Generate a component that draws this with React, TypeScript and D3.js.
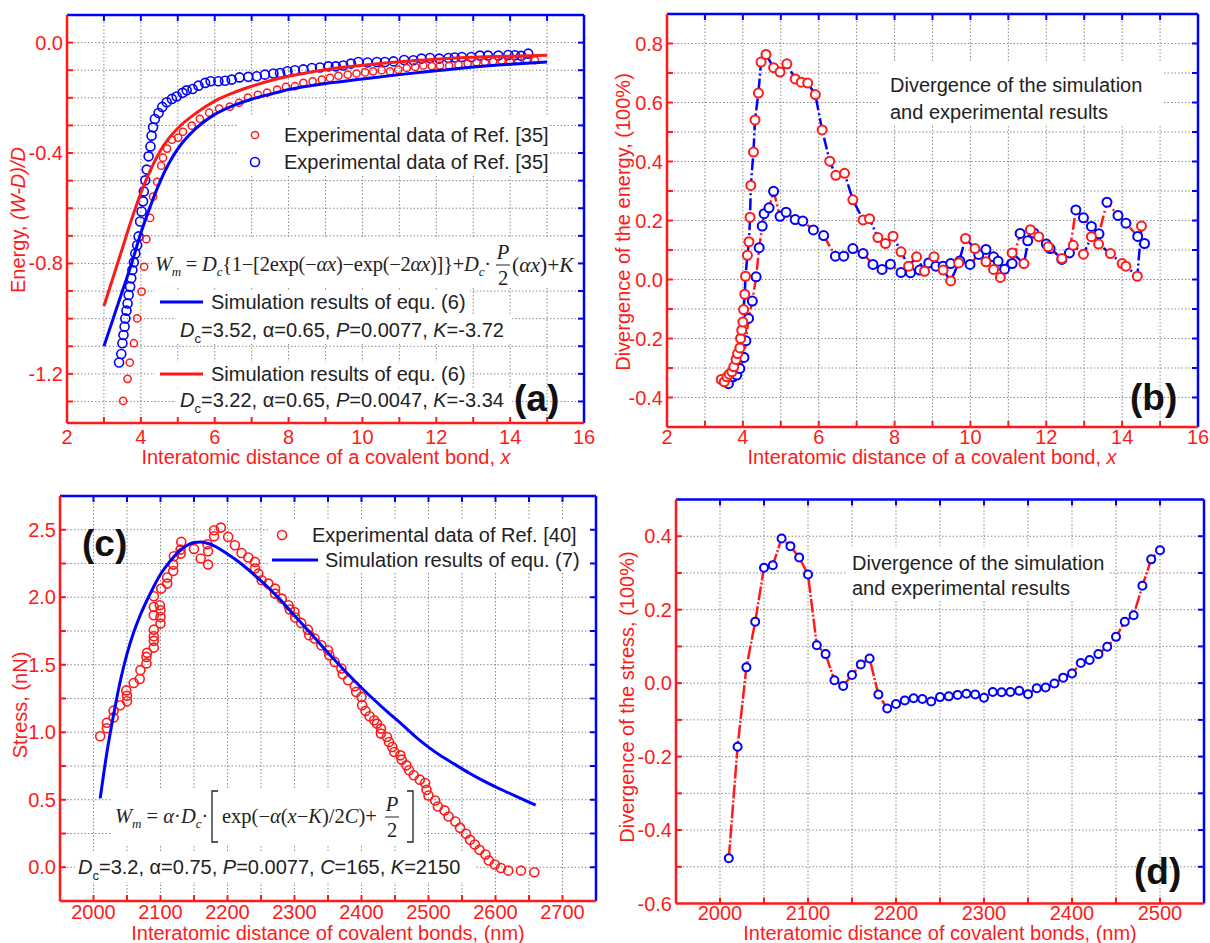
import React from 'react';
import * as d3 from 'd3';

type Pt = [number, number];

const RED = '#ff1a1a';
const BLUE = '#0000ff';
const GRID = '#8a8a8a';
const INK = '#222222';
const SANS = '"Liberation Sans", Arial, sans-serif';
const SERIF = '"Liberation Serif", "Times New Roman", serif';

// ---------------- Panel (a) data ----------------
const aRedExp: Pt[] = [
  [3.52,-1.298],[3.64,-1.218],[3.70,-1.159],[3.81,-1.089],[3.90,-0.999],[4.02,-0.902],[4.09,-0.812],[4.15,-0.712],
  [4.25,-0.635],[4.33,-0.558],[4.44,-0.504],[4.55,-0.446],[4.60,-0.417],[4.71,-0.384],[4.84,-0.352],[5.01,-0.344],
  [5.14,-0.323],[5.38,-0.301],[5.60,-0.276],[5.85,-0.254],[6.12,-0.239],[6.41,-0.232],[6.66,-0.218],[6.90,-0.199],
  [7.17,-0.189],[7.42,-0.181],[7.69,-0.170],[7.93,-0.160],[8.17,-0.158],[8.40,-0.146],[8.65,-0.140],[8.90,-0.134],
  [9.12,-0.128],[9.35,-0.120],[9.60,-0.116],[9.84,-0.112],[10.07,-0.108],[10.29,-0.104],[10.52,-0.100],[10.75,-0.104],
  [10.97,-0.098],[11.20,-0.092],[11.43,-0.088],[11.65,-0.083],[11.88,-0.085],[12.10,-0.083],[12.35,-0.084],[12.60,-0.080],
  [12.85,-0.076],[13.09,-0.071],[13.32,-0.070],[13.54,-0.068],[13.77,-0.066],[14.00,-0.068],[14.22,-0.064],[14.45,-0.062],[14.67,-0.064]
];
const aBlueExp: Pt[] = [
  [3.41,-1.159],[3.47,-1.128],[3.50,-1.089],[3.53,-1.059],[3.56,-1.029],[3.58,-0.999],[3.61,-0.971],[3.64,-0.945],
  [3.67,-0.914],[3.71,-0.884],[3.74,-0.854],[3.77,-0.824],[3.81,-0.796],[3.85,-0.764],[3.90,-0.734],[3.94,-0.702],
  [3.98,-0.648],[4.02,-0.612],[4.06,-0.575],[4.08,-0.539],[4.12,-0.499],[4.16,-0.460],[4.21,-0.412],[4.26,-0.376],
  [4.29,-0.337],[4.33,-0.307],[4.38,-0.277],[4.48,-0.255],[4.58,-0.233],[4.70,-0.216],[4.84,-0.204],[4.97,-0.195],
  [5.13,-0.182],[5.24,-0.173],[5.40,-0.168],[5.56,-0.156],[5.74,-0.146],[5.89,-0.140],[6.10,-0.140],[6.28,-0.138],
  [6.46,-0.134],[6.67,-0.126],[6.91,-0.124],[7.14,-0.122],[7.36,-0.116],[7.59,-0.112],[7.77,-0.110],[7.97,-0.104],
  [8.17,-0.100],[8.40,-0.097],[8.63,-0.092],[8.85,-0.090],[9.08,-0.086],[9.28,-0.086],[9.48,-0.083],[9.69,-0.076],
  [9.89,-0.070],[10.14,-0.072],[10.39,-0.070],[10.61,-0.070],[10.84,-0.068],[11.13,-0.063],[11.38,-0.064],[11.60,-0.058],
  [11.83,-0.056],[12.08,-0.058],[12.33,-0.056],[12.50,-0.054],[12.69,-0.052],[12.95,-0.052],[13.18,-0.047],[13.40,-0.047],
  [13.68,-0.047],[13.95,-0.045],[14.13,-0.046],[14.30,-0.048],[14.49,-0.040]
];
const aBlueSim: Pt[] = [
  [3.0,-1.10],[3.25,-1.0],[3.5,-0.90],[3.75,-0.80],[4.0,-0.69],[4.25,-0.595],[4.5,-0.51],[4.75,-0.44],[5.0,-0.385],
  [5.5,-0.31],[6.0,-0.26],[6.5,-0.228],[7.0,-0.205],[7.5,-0.187],[8.0,-0.170],[9.0,-0.148],[10,-0.132],[11,-0.116],
  [12,-0.102],[13,-0.088],[14,-0.078],[15,-0.070]
];
const aRedSim: Pt[] = [
  [3.0,-0.954],[3.25,-0.85],[3.5,-0.745],[3.75,-0.64],[4.0,-0.545],[4.25,-0.465],[4.5,-0.398],[4.75,-0.348],[5.0,-0.31],
  [5.5,-0.255],[6.0,-0.212],[6.5,-0.182],[7.0,-0.158],[7.5,-0.138],[8.0,-0.122],[9.0,-0.098],[10,-0.082],[11,-0.069],
  [12,-0.060],[13,-0.053],[14,-0.049],[15,-0.046]
];
const aXLabels = [2, 4, 6, 8, 10, 12, 14, 16];
const aYLabels = [0.0, -0.4, -0.8, -1.2];

// ---------------- Panel (b) data ----------------
const bRedDiv: Pt[] = [
  [3.43,-0.339],[3.51,-0.347],[3.58,-0.330],[3.64,-0.321],[3.71,-0.313],[3.76,-0.296],[3.82,-0.271],[3.86,-0.251],
  [3.92,-0.232],[3.94,-0.200],[3.97,-0.172],[4.00,-0.144],[4.02,-0.102],[4.05,-0.050],[4.07,0.011],[4.12,0.082],
  [4.16,0.128],[4.19,0.211],[4.21,0.319],[4.28,0.432],[4.32,0.541],[4.41,0.632],[4.48,0.737],[4.61,0.763],
  [4.81,0.718],[4.98,0.703],[5.16,0.731],[5.38,0.680],[5.54,0.669],[5.71,0.666],[5.91,0.627],[6.09,0.507],
  [6.29,0.401],[6.45,0.353],[6.68,0.360],[6.90,0.270],[7.17,0.202],[7.34,0.206],[7.56,0.142],[7.76,0.122],
  [7.96,0.147],[8.17,0.094],[8.37,0.045],[8.58,0.077],[8.79,0.028],[9.04,0.077],[9.28,0.032],[9.48,-0.005],
  [9.69,0.056],[9.87,0.139],[10.12,0.105],[10.41,0.060],[10.61,0.034],[10.79,0.007],[11.10,0.090],[11.41,0.054],
  [11.58,0.169],[11.80,0.145],[12.05,0.111],[12.41,0.071],[12.71,0.116],[12.98,0.086],[13.19,0.145],[13.38,0.120],
  [13.69,0.088],[14.00,0.054],[14.10,0.045],[14.40,0.011],[14.51,0.181]
];
const bBlueDiv: Pt[] = [
  [3.62,-0.353],[3.74,-0.330],[3.84,-0.324],[3.92,-0.302],[4.03,-0.264],[4.08,-0.208],[4.15,-0.132],[4.25,-0.073],
  [4.35,0.009],[4.43,0.108],[4.51,0.181],[4.56,0.223],[4.69,0.243],[4.81,0.299],[4.98,0.214],[5.14,0.228],
  [5.38,0.203],[5.58,0.198],[5.86,0.168],[6.13,0.149],[6.44,0.079],[6.66,0.079],[6.90,0.105],[7.17,0.088],
  [7.43,0.051],[7.67,0.034],[7.89,0.052],[8.17,0.024],[8.42,0.023],[8.66,0.032],[8.90,0.056],[9.09,0.045],
  [9.28,0.045],[9.48,0.054],[9.72,0.063],[9.99,0.051],[10.22,0.085],[10.41,0.102],[10.61,0.077],[10.73,0.062],
  [10.90,0.035],[11.10,0.054],[11.31,0.156],[11.51,0.131],[11.67,0.158],[12.00,0.120],[12.10,0.105],[12.41,0.068],
  [12.61,0.090],[12.78,0.236],[12.98,0.209],[13.19,0.180],[13.39,0.155],[13.60,0.262],[13.89,0.217],[14.10,0.191],
  [14.41,0.146],[14.59,0.122]
];
const bXLabels = [2, 4, 6, 8, 10, 12, 14, 16];
const bYLabels = [0.8, 0.6, 0.4, 0.2, 0.0, -0.2, -0.4];

// ---------------- Panel (c) data ----------------
const cExp: Pt[] = [
  [2010,0.97],[2020,1.03],[2020,1.07],[2030,1.11],[2030,1.16],[2040,1.20],[2050,1.23],[2050,1.27],[2049,1.31],
  [2060,1.365],[2069,1.395],[2070,1.46],[2079,1.51],[2079,1.558],[2080,1.588],
  [2090,1.627],[2090,1.677],[2090,1.711],[2090,1.76],[2090,1.867],[2090,1.928],[2090,2.007],
  [2100,1.805],[2100,1.854],[2100,1.904],[2099,1.941],[2101,2.064],
  [2110,2.101],[2110,2.146],[2119,2.195],[2119,2.242],[2120,2.304],[2130,2.323],[2130,2.353],[2131,2.41],
  [2150,2.358],[2160,2.287],[2171,2.242],[2171,2.341],[2170,2.393],[2180,2.452],[2180,2.496],[2190,2.516],
  [2201,2.447],[2211,2.385],[2221,2.328],[2231,2.294],[2241,2.262],[2241,2.213],[2246,2.175],[2251,2.126],
  [2261,2.101],[2271,2.064],[2271,2.027],[2281,1.99],[2291,1.941],[2293,1.909],[2300,1.891],[2301,1.85],
  [2310,1.81],[2320,1.76],[2322,1.719],[2330,1.694],[2340,1.644],[2350,1.607],[2352,1.57],[2360,1.521],
  [2370,1.472],[2372,1.43],[2380,1.385],[2390,1.341],[2392,1.299],[2400,1.262],[2401,1.20],[2406,1.158],
  [2412,1.119],[2419,1.089],[2423,1.064],[2429,1.027],[2429,0.99],[2438,0.965],[2441,0.928],[2446,0.891],
  [2449,0.854],[2458,0.829],[2460,0.797],[2467,0.755],[2471,0.718],[2478,0.681],[2487,0.649],[2495,0.624],
  [2497,0.574],[2500,0.532],[2510,0.495],[2514,0.45],[2524,0.421],[2530,0.376],[2540,0.339],[2547,0.292],
  [2556,0.248],[2562,0.203],[2569,0.168],[2576,0.129],[2585,0.094],[2590,0.05],[2599,0.02],[2608,-0.005],
  [2619,-0.025],[2638,-0.025],[2658,-0.037]
];
const cSim: Pt[] = [
  [2010,0.51],[2020,0.85],[2030,1.13],[2040,1.38],[2050,1.58],[2060,1.74],[2070,1.87],[2080,1.98],[2090,2.08],
  [2100,2.17],[2110,2.24],[2120,2.30],[2130,2.35],[2140,2.385],[2150,2.405],[2160,2.41],[2170,2.40],[2180,2.38],
  [2200,2.32],[2220,2.25],[2240,2.165],[2260,2.075],[2280,1.975],[2300,1.865],[2320,1.755],[2340,1.645],
  [2360,1.535],[2380,1.43],[2400,1.33],[2420,1.235],[2440,1.145],[2460,1.06],[2480,0.97],[2500,0.89],
  [2520,0.82],[2540,0.76],[2560,0.70],[2580,0.645],[2600,0.595],[2620,0.55],[2640,0.505],[2660,0.46]
];
const cXLabels = [2000, 2100, 2200, 2300, 2400, 2500, 2600, 2700];
const cYLabels = [0.0, 0.5, 1.0, 1.5, 2.0, 2.5];

// ---------------- Panel (d) data ----------------
const dDiv: Pt[] = [
  [2010,-0.477],[2020,-0.173],[2030,0.043],[2040,0.167],[2050,0.314],[2060,0.321],[2070,0.394],[2080,0.373],
  [2090,0.342],[2100,0.296],[2110,0.103],[2120,0.079],[2130,0.008],[2140,-0.008],[2150,0.022],[2160,0.051],
  [2170,0.067],[2180,-0.031],[2190,-0.069],[2200,-0.057],[2210,-0.047],[2220,-0.041],[2230,-0.043],[2240,-0.050],
  [2250,-0.038],[2260,-0.036],[2270,-0.032],[2280,-0.029],[2290,-0.031],[2300,-0.040],[2310,-0.024],[2320,-0.025],
  [2330,-0.024],[2340,-0.021],[2350,-0.030],[2360,-0.014],[2370,-0.012],[2380,-0.001],[2390,0.015],[2400,0.026],
  [2410,0.055],[2420,0.063],[2430,0.079],[2440,0.099],[2450,0.126],[2460,0.167],[2470,0.185],[2480,0.265],
  [2490,0.337],[2500,0.362]
];
const dXLabels = [2000, 2100, 2200, 2300, 2400, 2500];
const dYLabels = [0.4, 0.2, 0.0, -0.2, -0.4, -0.6];

// ---------------- scales ----------------
const ax = d3.scaleLinear().domain([2, 16]).range([67, 584]);
const ay = d3.scaleLinear().domain([-1.378, 0.1]).range([423, 15]);
const bx = d3.scaleLinear().domain([2, 16]).range([667, 1198]);
const by = d3.scaleLinear().domain([-0.5, 0.9]).range([427, 14]);
const cx = d3.scaleLinear().domain([1950, 2750]).range([60, 596]);
const cy = d3.scaleLinear().domain([-0.25, 2.75]).range([901, 496]);
const dx = d3.scaleLinear().domain([1950, 2550]).range([676, 1204]);
const dy = d3.scaleLinear().domain([-0.6, 0.5]).range([903.5, 499.5]);

const rng = (a: number, b: number, s: number) => {
  const out: number[] = [];
  const n = Math.round((b - a) / s);
  for (let i = 0; i <= n; i++) out.push(+(a + i * s).toFixed(6));
  return out;
};

type Sc = d3.ScaleLinear<number, number>;

function Grid({ x, y, xs, ys }: { x: Sc; y: Sc; xs: number[]; ys: number[] }) {
  const [x0, x1] = x.range();
  const [yb, yt] = y.range();
  return (
    <g stroke={GRID} strokeWidth={1} strokeDasharray="1.5,2">
      {xs.map((v, i) => <line key={'gx' + i} x1={x(v)} x2={x(v)} y1={yt} y2={yb} />)}
      {ys.map((v, i) => <line key={'gy' + i} x1={x0} x2={x1} y1={y(v)} y2={y(v)} />)}
    </g>
  );
}

function Axes({ x, y, xs, ys, xLabels, yLabels, xFmt, yFmt, xBase }:
  { x: Sc; y: Sc; xs: number[]; ys: number[]; xLabels: number[]; yLabels: number[];
    xFmt: (v: number) => string; yFmt: (v: number) => string; xBase: number }) {
  const [x0, x1] = x.range();
  const [yb, yt] = y.range();
  const T = 6;
  return (
    <g>
      <g stroke={RED} strokeWidth={2}>
        {xs.map((v, i) => <line key={'tb' + i} x1={x(v)} x2={x(v)} y1={yb} y2={yb - T} />)}
        {ys.map((v, i) => <line key={'tl' + i} x1={x0} x2={x0 + T} y1={y(v)} y2={y(v)} />)}
      </g>
      <g stroke={BLUE} strokeWidth={2}>
        {xs.map((v, i) => <line key={'tt' + i} x1={x(v)} x2={x(v)} y1={yt} y2={yt + T} />)}
        {ys.map((v, i) => <line key={'tr' + i} x1={x1} x2={x1 - T} y1={y(v)} y2={y(v)} />)}
      </g>
      <line x1={x0} x2={x1} y1={yt} y2={yt} stroke={BLUE} strokeWidth={2.5} />
      <line x1={x1} x2={x1} y1={yt} y2={yb} stroke={BLUE} strokeWidth={2.5} />
      <line x1={x0} x2={x0} y1={yt} y2={yb} stroke={RED} strokeWidth={2.5} />
      <line x1={x0} x2={x1} y1={yb} y2={yb} stroke={RED} strokeWidth={2.5} />
      <g fill={RED} fontFamily={SANS} fontSize={20}>
        {xLabels.map((v, i) => <text key={'lx' + i} x={x(v)} y={xBase} textAnchor="middle">{xFmt(v)}</text>)}
        {yLabels.map((v, i) => <text key={'ly' + i} x={x0 - 4} y={y(v) + 7} textAnchor="end">{yFmt(v)}</text>)}
      </g>
    </g>
  );
}

const f1 = (v: number) => v.toFixed(1);
const f0 = (v: number) => String(v);

function Boxes({ rects }: { rects: number[][] }) {
  return <g fill="#fff">{rects.map((r, i) => <rect key={i} x={r[0]} y={r[1]} width={r[2]} height={r[3]} />)}</g>;
}

function Circles({ data, x, y, r, color, fill, sw }:
  { data: Pt[]; x: Sc; y: Sc; r: number; color: string; fill: string; sw: number }) {
  return (
    <g stroke={color} fill={fill} strokeWidth={sw}>
      {data.map((d, i) => <circle key={i} cx={x(d[0])} cy={y(d[1])} r={r} />)}
    </g>
  );
}

function Path({ data, x, y, color, w, dash }:
  { data: Pt[]; x: Sc; y: Sc; color: string; w: number; dash?: string }) {
  const line = d3.line<Pt>().x(d => x(d[0])).y(d => y(d[1]));
  return <path d={line(data) || ''} fill="none" stroke={color} strokeWidth={w} strokeDasharray={dash} strokeLinejoin="round" />;
}

export default function App() {
  const lineA = d3.line<Pt>().curve(d3.curveMonotoneX);
  const smooth = (data: Pt[], x: Sc, y: Sc) => lineA.x(d => x(d[0])).y(d => y(d[1]))(data) || '';

  return (
    <svg width={1210} height={943} style={{ position: 'absolute', left: 0, top: 0, background: '#fff' }}>
      <rect x={0} y={0} width={1210} height={943} fill="#fff" />

      {/* ================= Panel (a) ================= */}
      <Grid x={ax} y={ay} xs={rng(3, 15, 1)} ys={rng(-1.3, 0, 0.1)} />
      <Boxes rects={[[237, 115, 312, 60], [152, 238, 430, 50], [155, 290, 315, 25], [176, 316, 336, 28], [155, 362, 315, 25], [176, 388, 336, 28]]} />
      <Circles data={aBlueExp} x={ax} y={ay} r={4.5} color={BLUE} fill="none" sw={1.6} />
      <Circles data={aRedExp} x={ax} y={ay} r={3.6} color={RED} fill="none" sw={1.5} />
      <path d={smooth(aBlueSim, ax, ay)} fill="none" stroke={BLUE} strokeWidth={3} />
      <path d={smooth(aRedSim, ax, ay)} fill="none" stroke={RED} strokeWidth={3} />
      <Axes x={ax} y={ay} xs={rng(3, 15, 1)} ys={rng(-1.3, 0, 0.1)} xLabels={aXLabels} yLabels={aYLabels} xFmt={f0} yFmt={f1} xBase={444} />
      <g fontFamily={SANS} fontSize={20} fill={INK}>
        <circle cx={255} cy={135} r={3.6} stroke={RED} fill="none" strokeWidth={1.5} />
        <text x={284} y={142}>Experimental data of Ref. [35]</text>
        <circle cx={255} cy={162} r={4.5} stroke={BLUE} fill="none" strokeWidth={1.6} />
        <text x={284} y={169}>Experimental data of Ref. [35]</text>
        <line x1={160} x2={203} y1={302} y2={302} stroke={BLUE} strokeWidth={3} />
        <text x={211} y={309}>Simulation results of equ. (6)</text>
        <text x={180} y={337}><tspan fontStyle="italic">D</tspan><tspan dy={6} fontSize={13}>c</tspan><tspan dy={-6}>=3.52, α=0.65, </tspan><tspan fontStyle="italic">P</tspan>=0.0077, <tspan fontStyle="italic">K</tspan>=-3.72</text>
        <line x1={160} x2={203} y1={374} y2={374} stroke={RED} strokeWidth={3} />
        <text x={211} y={381}>Simulation results of equ. (6)</text>
        <text x={180} y={407}><tspan fontStyle="italic">D</tspan><tspan dy={6} fontSize={13}>c</tspan><tspan dy={-6}>=3.22, α=0.65, </tspan><tspan fontStyle="italic">P</tspan>=0.0047, <tspan fontStyle="italic">K</tspan>=-3.34</text>
        <text x={514} y={411} fontSize={37} fontWeight="bold" fill="#111">(a)</text>
      </g>
      <g fontFamily={SERIF} fontSize={20.5} fill={INK}>
        <text x={155} y={271} textLength={336} lengthAdjust="spacing">
          <tspan fontStyle="italic">W</tspan><tspan dy={5} fontSize={13} fontStyle="italic">m</tspan><tspan dy={-5}> = </tspan>
          <tspan fontStyle="italic">D</tspan><tspan dy={5} fontSize={13} fontStyle="italic">c</tspan><tspan dy={-5}>{'{1−[2exp(−'}</tspan>
          <tspan fontStyle="italic">αx</tspan><tspan>)−exp(−2</tspan><tspan fontStyle="italic">αx</tspan><tspan>{')]}+'}</tspan>
          <tspan fontStyle="italic">D</tspan><tspan dy={5} fontSize={13} fontStyle="italic">c</tspan><tspan dy={-5}>·</tspan>
        </text>
        <text x={503} y={259} textAnchor="middle" fontStyle="italic">P</text>
        <line x1={496} x2={510} y1={265} y2={265} stroke={INK} strokeWidth={1} />
        <text x={503} y={285} textAnchor="middle">2</text>
        <text x={512} y={272} fontSize={21.5}>(<tspan fontStyle="italic">αx</tspan>)+<tspan fontStyle="italic">K</tspan></text>
      </g>
      <g fontFamily={SANS} fontSize={20} fill={RED}>
        <text x={326} y={464} textAnchor="middle">Interatomic distance of a covalent bond, <tspan fontStyle="italic">x</tspan></text>
        <text transform="translate(25,220) rotate(-90)" textAnchor="middle">Energy, <tspan fontStyle="italic">(W-D)/D</tspan></text>
      </g>

      {/* ================= Panel (b) ================= */}
      <Grid x={bx} y={by} xs={rng(3, 15, 1)} ys={rng(-0.4, 0.8, 0.1)} />
      <Boxes rects={[[880, 62, 284, 64]]} />
      <Path data={bRedDiv} x={bx} y={by} color={BLUE} w={2.5} dash="12,3,2,3" />
      <Path data={bBlueDiv} x={bx} y={by} color={RED} w={2.5} dash="12,3,2,3" />
      <Circles data={bBlueDiv} x={bx} y={by} r={4.5} color={BLUE} fill="#fff" sw={2} />
      <Circles data={bRedDiv} x={bx} y={by} r={4.5} color={RED} fill="#fff" sw={2} />
      <Axes x={bx} y={by} xs={rng(3, 15, 1)} ys={rng(-0.4, 0.8, 0.1)} xLabels={bXLabels} yLabels={bYLabels} xFmt={f0} yFmt={f1} xBase={444} />
      <g fontFamily={SANS} fontSize={20} fill={INK}>
        <text x={890} y={92}>Divergence of the simulation</text>
        <text x={890} y={119}>and experimental results</text>
        <text x={1130} y={410} fontSize={37} fontWeight="bold" fill="#111">(b)</text>
      </g>
      <g fontFamily={SANS} fontSize={20} fill={RED}>
        <text x={932} y={464} textAnchor="middle">Interatomic distance of a covalent bond, <tspan fontStyle="italic">x</tspan></text>
        <text transform="translate(630,222) rotate(-90)" textAnchor="middle">Divergence of the energy, (100%)</text>
      </g>

      {/* ================= Panel (c) ================= */}
      <Grid x={cx} y={cy} xs={rng(2000, 2700, 50)} ys={rng(0, 2.5, 0.25)} />
      <Boxes rects={[[268, 520, 322, 52], [112, 788, 310, 58], [75, 852, 400, 30]]} />
      <Circles data={cExp} x={cx} y={cy} r={4.5} color={RED} fill="none" sw={1.6} />
      <path d={smooth(cSim, cx, cy)} fill="none" stroke={BLUE} strokeWidth={3} />
      <Axes x={cx} y={cy} xs={rng(2000, 2700, 50)} ys={rng(0, 2.5, 0.25)} xLabels={cXLabels} yLabels={cYLabels} xFmt={f0} yFmt={f1} xBase={919} />
      <g fontFamily={SANS} fontSize={20} fill={INK}>
        <text x={82} y={556} fontSize={37} fontWeight="bold" fill="#111">(c)</text>
        <circle cx={282} cy={535} r={4.5} stroke={RED} fill="none" strokeWidth={1.6} />
        <text x={312} y={542}>Experimental data of Ref. [40]</text>
        <line x1={272} x2={318} y1={560} y2={560} stroke={BLUE} strokeWidth={3} />
        <text x={325} y={567}>Simulation results of equ. (7)</text>
        <text x={78} y={874}><tspan fontStyle="italic">D</tspan><tspan dy={6} fontSize={13}>c</tspan><tspan dy={-6}>=3.2, α=0.75, </tspan><tspan fontStyle="italic">P</tspan>=0.0077, <tspan fontStyle="italic">C</tspan>=165, <tspan fontStyle="italic">K</tspan>=2150</text>
      </g>
      <g fontFamily={SERIF} fontSize={20.5} fill={INK}>
        <text x={115} y={823}>
          <tspan fontStyle="italic">W</tspan><tspan dy={5} fontSize={13} fontStyle="italic">m</tspan><tspan dy={-5}> = </tspan>
          <tspan fontStyle="italic">α</tspan><tspan>·</tspan><tspan fontStyle="italic">D</tspan><tspan dy={5} fontSize={13} fontStyle="italic">c</tspan><tspan dy={-5}>·</tspan>
        </text>
        <path d="M218,791 L212,791 L212,842 L218,842" fill="none" stroke={INK} strokeWidth={1.3} />
        <text x={222} y={823}>exp(−<tspan fontStyle="italic">α</tspan>(<tspan fontStyle="italic">x</tspan>−<tspan fontStyle="italic">K</tspan>)/2<tspan fontStyle="italic">C</tspan>)+</text>
        <text x={392} y={811} textAnchor="middle" fontStyle="italic">P</text>
        <line x1={385} x2={399} y1={817} y2={817} stroke={INK} strokeWidth={1} />
        <text x={392} y={837} textAnchor="middle">2</text>
        <path d="M407,791 L413,791 L413,842 L407,842" fill="none" stroke={INK} strokeWidth={1.3} />
      </g>
      <g fontFamily={SANS} fontSize={20} fill={RED}>
        <text x={328} y={940} textAnchor="middle">Interatomic distance of covalent bonds, (nm)</text>
        <text transform="translate(27,705) rotate(-90)" textAnchor="middle">Stress, (nN)</text>
      </g>

      {/* ================= Panel (d) ================= */}
      <Grid x={dx} y={dy} xs={rng(2000, 2500, 50)} ys={rng(-0.5, 0.4, 0.1)} />
      <Boxes rects={[[846, 546, 262, 54]]} />
      <Path data={dDiv} x={dx} y={dy} color={RED} w={2.5} dash="14,2,2,2" />
      <Circles data={dDiv} x={dx} y={dy} r={4} color={BLUE} fill="#fff" sw={2} />
      <Axes x={dx} y={dy} xs={rng(2000, 2500, 50)} ys={rng(-0.5, 0.4, 0.1)} xLabels={dXLabels} yLabels={dYLabels} xFmt={f0} yFmt={f1} xBase={920} />
      <g fontFamily={SANS} fontSize={20} fill={INK}>
        <text x={852} y={570}>Divergence of the simulation</text>
        <text x={852} y={595}>and experimental results</text>
        <text x={1134} y={884} fontSize={37} fontWeight="bold" fill="#111">(d)</text>
      </g>
      <g fontFamily={SANS} fontSize={20} fill={RED}>
        <text x={940} y={940} textAnchor="middle">Interatomic distance of covalent bonds, (nm)</text>
        <text transform="translate(634,697) rotate(-90)" textAnchor="middle">Divergence of the stress, (100%)</text>
      </g>
    </svg>
  );
}
